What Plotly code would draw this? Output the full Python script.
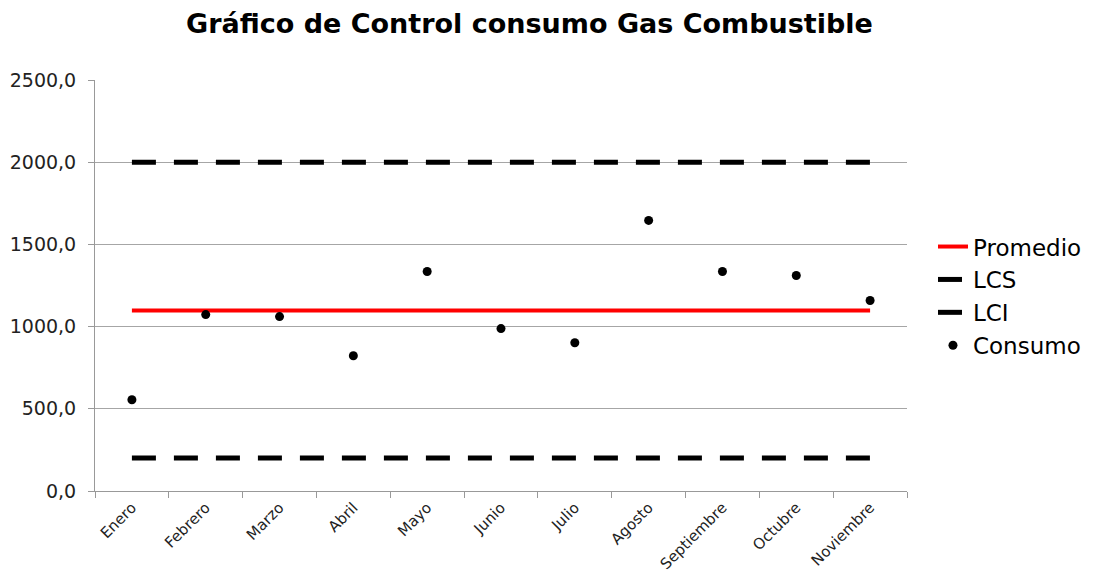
import plotly.graph_objects as go

meses = ["Enero", "Febrero", "Marzo", "Abril", "Mayo", "Junio", "Julio",
         "Agosto", "Septiembre", "Octubre", "Noviembre"]
consumo = [555, 1073, 1061, 823, 1335, 988, 902, 1646, 1335, 1311, 1159]
promedio_val = 1098
lcs_val = 2000
lci_val = 200

promedio = [promedio_val] * len(meses)
lcs = [lcs_val] * len(meses)
lci = [lci_val] * len(meses)

FONT = "DejaVu Sans, Liberation Sans, Arial, sans-serif"

fig = go.Figure()
fig.add_trace(go.Scatter(x=meses, y=promedio, name="Promedio", mode="lines",
                         line=dict(color="#ff0000", width=4)))
fig.add_trace(go.Scatter(x=meses, y=lcs, name="LCS", mode="lines",
                         line=dict(color="#000000", width=5, dash="24px,18px")))
fig.add_trace(go.Scatter(x=meses, y=lci, name="LCI", mode="lines",
                         line=dict(color="#000000", width=5, dash="24px,18px")))
fig.add_trace(go.Scatter(x=meses, y=consumo, name="Consumo", mode="markers",
                         marker=dict(color="#000000", size=9)))

fig.update_layout(
    width=1091, height=565,
    paper_bgcolor="white", plot_bgcolor="white",
    separators=",.",
    margin=dict(l=87, r=192, t=72, b=82, autoexpand=False),
    font=dict(family=FONT, color="#000000"),
    title=dict(text="<b>Gráfico de Control consumo Gas Combustible</b>",
               x=0.478, xanchor="center", y=0.99, yanchor="top",
               font=dict(size=27, color="#000000", family=FONT)),
    legend=dict(x=1.032, y=0.647, xanchor="left", yanchor="top",
                font=dict(size=23, family=FONT), bgcolor="rgba(0,0,0,0)",
                tracegroupgap=0, itemwidth=30),
    showlegend=True,
)
fig.update_xaxes(
    type="category", showgrid=False, showline=True, linecolor="#999999",
    linewidth=1, ticks="outside", tickson="boundaries", ticklen=6,
    tickcolor="#999999", tickangle=-45,
    tickfont=dict(size=15, color="#222222", family=FONT),
    range=[-0.5, 10.5], zeroline=False, automargin=False,
    ticklabelstandoff=1,
)
fig.update_yaxes(
    range=[0, 2500], dtick=500, tickformat=".1f", showgrid=True,
    gridcolor="#a6a6a6", gridwidth=1, showline=True, linecolor="#999999",
    linewidth=1, ticks="outside", ticklen=6, tickcolor="#999999",
    tickfont=dict(size=19, color="#222222", family=FONT), zeroline=False,
    automargin=False, ticklabelstandoff=8,
)

fig.write_html("out.html")
